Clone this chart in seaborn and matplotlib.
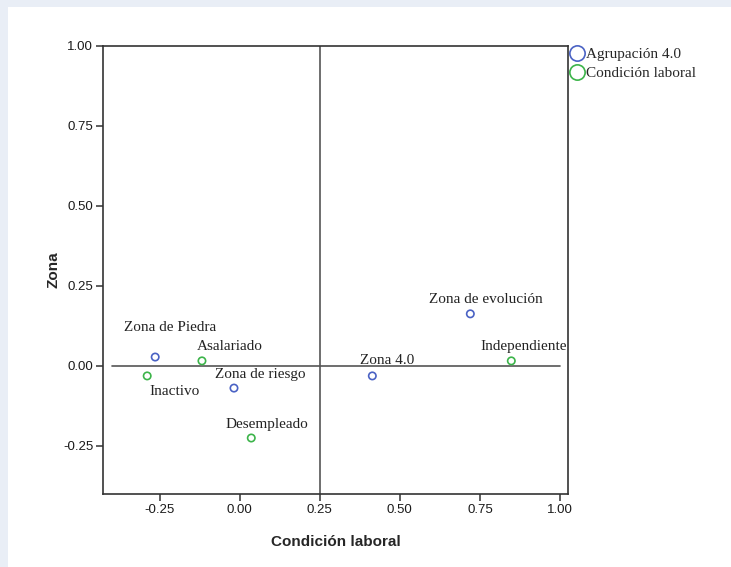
import pandas as pd
import numpy as np
import matplotlib
matplotlib.use("Agg")
import matplotlib.pyplot as plt
import seaborn as sns
from matplotlib.lines import Line2D
from matplotlib.patches import Rectangle

# category points (dimension 1 = Condición laboral, dimension 2 = Zona)
zona_labels = ["Zona de Piedra", "Zona de riesgo", "Zona 4.0", "Zona de evolución"]
zona_x = [-0.264, -0.018, 0.414, 0.720]
zona_y = [0.028, -0.069, -0.031, 0.163]

cond_labels = ["Asalariado", "Inactivo", "Desempleado", "Independiente"]
cond_x = [-0.118, -0.289, 0.036, 0.848]
cond_y = [0.016, -0.031, -0.225, 0.016]

groups = ["Agrupación 4.0", "Condición laboral"]
colors = ["#4a62c4", "#3cb44a"]

x_ticks = [-0.25, 0.00, 0.25, 0.50, 0.75, 1.00]
y_ticks = [-0.25, 0.00, 0.25, 0.50, 0.75, 1.00]

df = pd.DataFrame({
    "x": zona_x + cond_x,
    "y": zona_y + cond_y,
    "label": zona_labels + cond_labels,
    "grupo": [groups[0]] * len(zona_x) + [groups[1]] * len(cond_x),
})

# label offsets in points (relative to the marker)
offsets = {
    "Zona de Piedra": (11, 21), "Zona de riesgo": (19, 10), "Zona 4.0": (11, 11),
    "Zona de evolución": (11, 10), "Asalariado": (20, 10), "Inactivo": (20, -11),
    "Desempleado": (11, 10), "Independiente": (9, 10),
}

sns.set_style("white")
serif = ["Liberation Serif", "DejaVu Serif"]
sans = ["Liberation Sans", "DejaVu Sans"]
plt.rcParams["font.family"] = sans

fig = plt.figure(figsize=(7.31, 5.67), dpi=100, facecolor="#e9eef6")
W, H = 731, 567
fig.patches.append(Rectangle((8 / W, 0), 1, 1 - 7 / H, transform=fig.transFigure,
                             facecolor="white", edgecolor="none", zorder=-1))
ax = fig.add_axes([103 / W, 1 - 494 / H, 465 / W, 448 / H])

sns.scatterplot(data=df, x="x", y="y", hue="grupo", palette=colors, s=28,
                linewidth=1.2, legend=False, ax=ax, zorder=3)
coll = ax.collections[0]
fc = coll.get_facecolors()
coll.set_edgecolors(fc)
coll.set_facecolors("none")

for _, r in df.iterrows():
    ax.annotate(r["label"], (r["x"], r["y"]), xytext=offsets[r["label"]],
                textcoords="offset points", ha="center", va="center",
                family=serif, fontsize=11, color="#222222")

ax.axvline(0.25, color="#555555", lw=1.2, zorder=1)
ax.plot([-0.40, 1.00], [0, 0], color="#555555", lw=1.2, zorder=1)

ax.set_xlim(-0.427, 1.025)
ax.set_ylim(-0.40, 1.0)
ax.set_xticks(x_ticks)
ax.set_yticks(y_ticks)
ax.set_xticklabels([f"{v:.2f}" for v in x_ticks], fontsize=9.5, color="#1a1a1a")
ax.set_yticklabels([f"{v:.2f}" for v in y_ticks], fontsize=9.5, color="#1a1a1a")
ax.tick_params(axis="both", direction="out", length=5, width=1.1, color="#333333",
               bottom=True, left=True, pad=2)
for s in ax.spines.values():
    s.set_color("#333333")
    s.set_linewidth(1.2)

ax.set_xlabel("Condición laboral", fontsize=11, fontweight="bold", labelpad=14)
ax.set_ylabel("Zona", fontsize=11, fontweight="bold", labelpad=2)

handles = [Line2D([], [], ls="none", marker="o", markersize=11, markerfacecolor="none",
                  markeredgecolor=c, markeredgewidth=1.2) for c in colors]
ax.legend(handles, groups, loc="upper left", bbox_to_anchor=(1.0, 1.0), frameon=False,
          borderpad=0, borderaxespad=0.1, handletextpad=0.1, handlelength=1.0,
          labelspacing=0.35, prop={"family": serif, "size": 11})

fig.savefig("out.png", dpi=100, facecolor=fig.get_facecolor())
